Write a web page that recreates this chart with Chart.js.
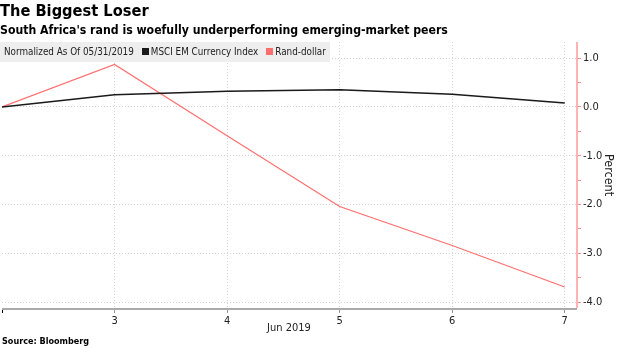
<!DOCTYPE html>
<html>
<head>
<meta charset="utf-8">
<script src="https://cdn.jsdelivr.net/npm/chart.js@4/dist/chart.umd.min.js"></script>
<style>
  html, body { margin: 0; padding: 0; background: #fff; }
  body { width: 620px; height: 348px; position: relative; overflow: hidden; font-family: "DejaVu Sans", sans-serif; }
  #title { position: absolute; left: 0; top: 1px; font: bold 16.3px "DejaVu Sans Condensed", "DejaVu Sans", sans-serif; color: #000; }
  #subtitle { position: absolute; left: 0; top: 23px; font: bold 12.2px "DejaVu Sans Condensed", "DejaVu Sans", sans-serif; color: #000; }
  #legend { position: absolute; left: 0; top: 42px; width: 330px; height: 20px; background: #eeeeee; font: 9.8px "DejaVu Sans Condensed", "Liberation Sans Narrow", sans-serif; color: #222; line-height: 20px; white-space: nowrap; padding-left: 4px; box-sizing: border-box; }
  #legend .sw { display: inline-block; width: 7px; height: 7px; margin: 0 2px 0 8px; vertical-align: 0px; }
  #source { position: absolute; left: 2px; top: 336px; font: bold 9px "DejaVu Sans Condensed", "DejaVu Sans", sans-serif; color: #000; }
  #wrap { position: absolute; left: 0; top: 0; width: 620px; height: 348px; }
</style>
</head>
<body>
<div id="wrap"><canvas id="c" width="620" height="348"></canvas></div>
<div id="title">The Biggest Loser</div>
<div id="subtitle">South Africa's rand is woefully underperforming emerging-market peers</div>
<div id="legend"></div>
<div id="source">Source: Bloomberg</div>
<script>
// Data
const days = [2, 3, 4, 5, 6, 7];               // trading days (2 = normalization start, May 31)
const tickDays = [3, 4, 5, 6, 7];
const seriesNames = ["MSCI EM Currency Index", "Rand-dollar"];
const msci = [0, 0.25, 0.32, 0.35, 0.26, 0.08];
const rand = [0, 0.87, -0.59, -2.04, -2.84, -3.69];
const yTickLabels = ["1.0", "0.0", "-1.0", "-2.0", "-3.0", "-4.0"];
const legendNote = "Normalized As Of 05/31/2019";
const xTitle = "Jun 2019";
const yTitle = "Percent";

const colors = ["#1a1a1a", "#ff6e6e"];

// HTML legend
const lg = document.getElementById('legend');
lg.appendChild(document.createTextNode(legendNote));
seriesNames.forEach((n, i) => {
  const s = document.createElement('span'); s.className = 'sw'; s.style.background = colors[i];
  lg.appendChild(s); lg.appendChild(document.createTextNode(n));
});

const tickFont = { family: "'DejaVu Sans Condensed', 'Liberation Sans Narrow', sans-serif", size: 11 };

// solid axis lines (grid lines are dotted)
const axisLines = {
  id: 'axisLines',
  beforeDatasetsDraw(chart) {
    const { ctx, chartArea: a } = chart;
    ctx.save();
    ctx.setLineDash([]);
    ctx.lineWidth = 2;
    ctx.strokeStyle = '#aaaaaa';
    ctx.beginPath(); ctx.moveTo(a.left, a.bottom + 1); ctx.lineTo(a.right + 1, a.bottom + 1); ctx.stroke();
    ctx.strokeStyle = '#ffb3b3';
    ctx.beginPath(); ctx.moveTo(a.right + 1, a.top); ctx.lineTo(a.right + 1, a.bottom); ctx.stroke();
    ctx.restore();
  }
};

new Chart(document.getElementById('c'), {
  type: 'line',
  data: {
    datasets: [
      { label: seriesNames[0], data: days.map((d, i) => ({ x: d, y: msci[i] })), borderColor: colors[0], borderWidth: 1.5, pointRadius: 0, tension: 0 },
      { label: seriesNames[1], data: days.map((d, i) => ({ x: d, y: rand[i] })), borderColor: colors[1], borderWidth: 1.2, pointRadius: 0, tension: 0 }
    ]
  },
  plugins: [axisLines],
  options: {
    responsive: false,
    animation: false,
    layout: { padding: { top: 42, left: 0, right: 0, bottom: 0 } },
    plugins: { legend: { display: false }, tooltip: { enabled: false } },
    scales: {
      x: {
        type: 'linear', min: 2, max: 7.1,
        afterBuildTicks: s => { s.ticks = [2].concat(tickDays).map(v => ({ value: v })); },
        afterFit: s => { s.height = 40; },
        ticks: { callback: v => tickDays.includes(v) ? String(v) : '', color: '#222', font: tickFont, padding: 2, maxRotation: 0, autoSkip: false },
        grid: { color: (ctx) => ctx.tick && ctx.tick.value === 2 ? 'rgba(0,0,0,0)' : '#d4d4d4', tickLength: 5, tickColor: (ctx) => ctx.tick && ctx.tick.value === 2 ? '#000' : '#999', tickBorderDash: [], lineWidth: 1 },
        border: { display: false, dash: [1, 2] },
        title: { display: true, text: xTitle, color: '#222', font: tickFont, padding: { top: 0, bottom: 13 } }
      },
      y: {
        position: 'right', min: -4.12, max: 1.33,
        afterBuildTicks: s => {
          const t = [];
          for (let v = -8; v <= 2; v++) { const val = v / 2; if (val >= s.min && val <= s.max) t.push({ value: val }); }
          s.ticks = t;
        },
        afterFit: s => { s.width = 44; },
        ticks: { callback: v => Number.isInteger(v) ? yTickLabels[1 - v] : '', color: '#222', font: tickFont, padding: 2 },
        grid: { color: (ctx) => ctx.tick && Number.isInteger(ctx.tick.value) ? '#d4d4d4' : 'rgba(0,0,0,0)', tickLength: 5, tickColor: '#ff8a8a', tickBorderDash: [], lineWidth: 1 },
        border: { display: false, dash: [1, 2] },
        title: { display: true, text: yTitle, color: '#222', font: { family: "'DejaVu Sans Condensed', sans-serif", size: 12.5 }, padding: { top: 4, bottom: 12 } }
      }
    }
  }
});
</script>
</body>
</html>
